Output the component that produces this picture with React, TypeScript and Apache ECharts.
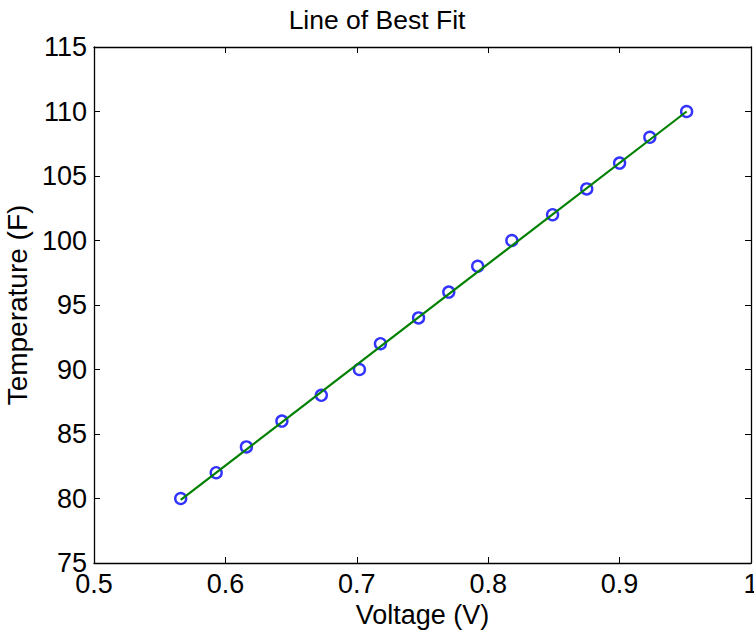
import React, { useEffect, useRef } from "react";
import * as echarts from "echarts";

const voltage = [0.566, 0.593, 0.616, 0.643, 0.673, 0.702, 0.718, 0.747, 0.77, 0.792, 0.818, 0.849, 0.875, 0.9, 0.923, 0.951];
const temperature = [80, 82, 84, 86, 88, 90, 92, 94, 96, 98, 100, 102, 104, 106, 108, 110];
const fitVoltage = [0.566, 0.951];
const fitTemperature = [79.9, 110.0];

const titleText = "Line of Best Fit";
const xName = "Voltage (V)";
const yName = "Temperature (F)";

const FONT = "'Liberation Sans', Arial, Helvetica, sans-serif";

export default function App() {
  const ref = useRef<HTMLDivElement>(null);
  useEffect(() => {
    if (!ref.current) return;
    const chart = echarts.init(ref.current, undefined, { renderer: "svg" });
    const axisLine = { show: true, lineStyle: { color: "#000", width: 1.3 } };
    const tick = { show: true, inside: true, length: 6, lineStyle: { color: "#000", width: 1 } };
    chart.setOption({
      animation: false,
      backgroundColor: "#fff",
      title: {
        text: titleText,
        left: "center",
        top: 1,
        textStyle: { fontFamily: FONT, fontSize: 26.5, fontWeight: "normal", color: "#000" },
      },
      grid: { left: 94, right: 3, top: 47, bottom: 71, containLabel: false, outerBoundsMode: "none" },
      xAxis: [
        {
          type: "value",
          min: 0.5,
          max: 1,
          interval: 0.1,
          position: "bottom",
          name: xName,
          nameLocation: "middle",
          nameGap: 33,
          nameTextStyle: { fontFamily: FONT, fontSize: 27, color: "#000" },
          axisLine,
          axisTick: tick,
          splitLine: { show: false },
          axisLabel: {
            fontFamily: FONT,
            fontSize: 27,
            color: "#000",
            margin: 7,
            hideOverlap: false,
            formatter: (v: number) => String(Math.round(v * 10) / 10),
          },
        },
        {
          type: "value",
          min: 0.5,
          max: 1,
          interval: 0.1,
          position: "top",
          axisLine,
          axisTick: tick,
          splitLine: { show: false },
          axisLabel: { show: false },
        },
      ],
      yAxis: [
        {
          type: "value",
          min: 75,
          max: 115,
          interval: 5,
          position: "left",
          name: yName,
          nameLocation: "middle",
          nameGap: 60,
          nameTextStyle: { fontFamily: FONT, fontSize: 28, color: "#000" },
          axisLine,
          axisTick: tick,
          splitLine: { show: false },
          axisLabel: { fontFamily: FONT, fontSize: 27, color: "#000", margin: 7 },
        },
        {
          type: "value",
          min: 75,
          max: 115,
          interval: 5,
          position: "right",
          axisLine,
          axisTick: tick,
          splitLine: { show: false },
          axisLabel: { show: false },
        },
      ],
      series: [
        {
          type: "scatter",
          data: voltage.map((v, i) => [v, temperature[i]]),
          symbol: "circle",
          symbolSize: 11,
          itemStyle: { color: "rgba(255,255,255,0)", borderColor: "#0000ff", borderWidth: 2.4 },
          z: 2,
        },
        {
          type: "line",
          data: fitVoltage.map((v, i) => [v, fitTemperature[i]]),
          showSymbol: false,
          symbol: "none",
          lineStyle: { color: "#008000", width: 2.2 },
          z: 3,
        },
      ],
    });
    return () => chart.dispose();
  }, []);
  return <div ref={ref} style={{ width: 754, height: 634, position: "absolute", left: 0, top: 0 }} />;
}
